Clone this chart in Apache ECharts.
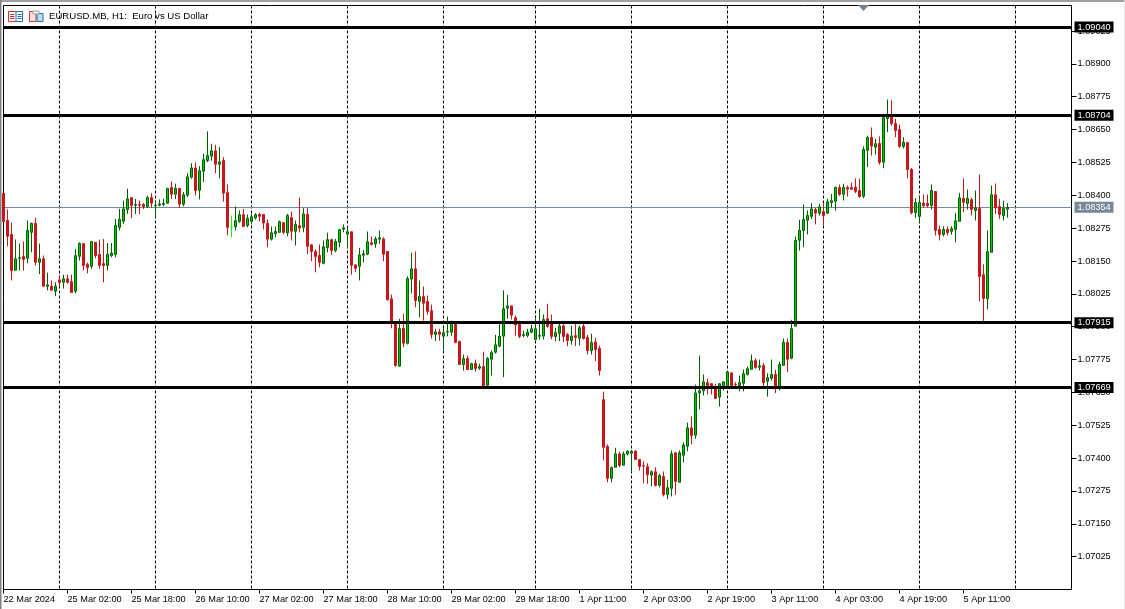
<!DOCTYPE html>
<html><head><meta charset="utf-8">
<style>html,body{margin:0;padding:0;background:#fff;overflow:hidden}#c{width:1125px;height:609px}</style>
<script src="https://cdn.jsdelivr.net/npm/echarts@6/dist/echarts.min.js"></script>
</head><body><div id="c"></div>
<script>
// prices below are in 1e-5 units (108407 = 1.08407)
const opens=[108407,108304,108251,108115,108160,108167,108160,108259,108293,108145,
108158,108054,108054,108035,108078,108069,108082,108071,108035,108168,
108216,108137,108130,108221,108175,108140,108133,108171,108175,108278,
108301,108346,108391,108362,108365,108365,108357,108391,108360,108362,
108365,108370,108430,108404,108426,108366,108400,108469,108504,108419,
108491,108532,108549,108569,108518,108532,108410,108279,108281,108301,
108326,108285,108301,108314,108327,108327,108293,108233,108254,108259,
108296,108257,108315,108263,108284,108278,108327,108211,108186,108171,
108141,108201,108231,108190,108221,108271,108252,108261,108135,108130,
108172,108176,108219,108215,108233,108234,108186,108006,107917,107750,
107893,107837,108081,108120,107997,108015,107996,107961,107871,107880,
107864,107880,107879,107912,107844,107756,107779,107737,107760,107742,
107748,107677,107776,107803,107826,107864,107970,107979,107934,107911,
107867,107866,107879,107851,107864,107864,107930,107911,107863,107875,
107903,107870,107847,107866,107856,107901,107859,107809,107842,107817,
107622,107444,107323,107365,107416,107373,107416,107419,107426,107395,
107371,107367,107335,107348,107297,107330,107262,107285,107420,107308,
107411,107445,107515,107487,107648,107656,107687,107683,107668,107632,
107676,107672,107724,107681,107676,107685,107719,107738,107771,107746,
107752,107692,107704,107718,107670,107753,107840,107780,107902,108229,
108266,108305,108320,108346,108332,108338,108332,108372,108377,108430,
108404,108430,108430,108430,108418,108396,108571,108620,108583,108597,
108526,108692,108700,108673,108650,108586,108601,108498,108334,108320,
108370,108369,108361,108414,108270,108251,108270,108263,108270,108301,
108388,108369,108383,108342,108350,108098,108007,108183,108402,108357,
108323,108347];
const highs=[108407,108346,108296,108232,108216,108224,108304,108296,108315,108216,
108171,108105,108076,108069,108095,108098,108098,108098,108196,108221,
108216,108144,108224,108221,108231,108234,108218,108218,108310,108348,
108380,108425,108391,108386,108380,108371,108399,108408,108380,108384,
108386,108428,108452,108444,108426,108412,108484,108522,108525,108511,
108558,108643,108596,108592,108583,108545,108441,108323,108357,108342,
108348,108327,108329,108332,108333,108327,108308,108281,108281,108304,
108296,108329,108338,108304,108391,108351,108351,108215,108194,108213,
108228,108258,108235,108234,108272,108289,108276,108261,108137,108200,
108192,108262,108243,108243,108266,108240,108186,108022,107920,107930,
107949,108091,108181,108186,108076,108053,108019,107984,107892,107892,
107896,107939,107923,107912,107847,107794,107790,107763,107775,107759,
107805,107784,107809,107869,107913,108038,108021,107980,107942,107923,
107885,107892,107907,107930,107968,107946,107987,107946,107896,107911,
107911,107875,107904,107911,107904,107911,107869,107873,107858,107828,
107653,107452,107368,107439,107425,107425,107429,107431,107431,107395,
107388,107380,107353,107365,107340,107349,107318,107429,107421,107429,
107460,107535,107558,107680,107790,107718,107702,107686,107683,107684,
107691,107729,107727,107689,107714,107737,107748,107794,107780,107775,
107761,107723,107775,107736,107766,107855,107855,107926,108243,108307,
108365,108342,108370,108352,108367,108367,108386,108405,108433,108441,
108444,108437,108448,108464,108463,108586,108627,108658,108615,108624,
108703,108764,108761,108691,108669,108621,108601,108504,108389,108399,
108403,108403,108441,108414,108285,108282,108282,108282,108332,108409,
108464,108422,108390,108418,108479,108137,108266,108437,108445,108386,
108380,108370];
const lows=[108300,108206,108076,108114,108114,108114,108141,108183,108133,108100,
108053,108038,108038,108016,108053,108045,108064,108029,108026,108152,
108114,108103,108120,108160,108120,108069,108114,108164,108164,108266,
108291,108329,108313,108329,108329,108348,108352,108352,108314,108358,
108358,108367,108386,108386,108352,108358,108393,108463,108399,108384,
108450,108526,108532,108484,108465,108376,108247,108240,108266,108295,
108281,108278,108289,108308,108301,108270,108202,108228,108240,108257,
108252,108244,108228,108209,108259,108259,108177,108149,108107,108126,
108137,108183,108173,108183,108202,108259,108200,108098,108107,108076,
108145,108172,108209,108200,108215,108149,108000,107894,107748,107748,
107822,107832,108027,107974,107936,107923,107946,107855,107845,107847,
107812,107863,107866,107837,107756,107733,107737,107736,107729,107736,
107672,107672,107714,107798,107822,107708,107930,107927,107866,107856,
107860,107859,107875,107851,107851,107851,107896,107852,107845,107845,
107841,107826,107832,107826,107828,107851,107794,107794,107769,107714,
107391,107308,107308,107365,107365,107373,107410,107346,107395,107353,
107304,107302,107293,107292,107289,107254,107243,107254,107261,107308,
107384,107426,107452,107473,107585,107638,107642,107642,107627,107596,
107657,107672,107676,107670,107654,107654,107714,107738,107740,107733,
107672,107634,107695,107647,107657,107753,107727,107776,107900,108190,
108202,108251,108310,108289,108323,108285,108329,108354,108342,108398,
108380,108395,108422,108408,108390,108389,108507,108551,108555,108517,
108503,108640,108665,108621,108581,108578,108465,108327,108314,108297,
108354,108354,108345,108247,108228,108243,108247,108250,108221,108300,
108336,108346,108323,108304,107996,107920,107966,108183,108329,108310,
108304,108315];
const closes=[108300,108244,108114,108158,108162,108156,108266,108293,108145,108158,
108054,108059,108039,108054,108068,108082,108069,108030,108170,108216,
108133,108125,108224,108171,108133,108133,108175,108180,108285,108308,
108348,108386,108361,108365,108362,108357,108391,108370,108362,108367,
108369,108426,108404,108426,108366,108402,108470,108504,108418,108493,
108535,108551,108569,108518,108527,108408,108278,108279,108303,108326,
108281,108312,108318,108326,108320,108294,108233,108257,108262,108299,
108259,108323,108263,108289,108275,108329,108206,108186,108167,108145,
108204,108231,108190,108224,108269,108276,108261,108134,108122,108173,
108177,108223,108213,108234,108238,108176,108002,107917,107752,107892,
107837,108083,108120,108000,108015,107989,107958,107870,107880,107871,
107877,107881,107917,107840,107756,107778,107737,107759,107741,107748,
107672,107779,107801,107831,107864,107968,107979,107944,107906,107863,
107870,107879,107892,107892,107866,107927,107901,107863,107877,107903,
107863,107847,107864,107859,107896,107855,107809,107839,107813,107733,
107441,107323,107364,107416,107372,107416,107426,107426,107395,107368,
107370,107337,107348,107296,107334,107261,107287,107416,107311,107420,
107450,107515,107486,107648,107656,107690,107676,107667,107627,107683,
107690,107728,107676,107679,107687,107721,107740,107770,107745,107751,
107687,107706,107718,107670,107756,107840,107776,107892,108228,108266,
108307,108323,108348,108332,108356,108323,108375,108379,108430,108403,
108430,108423,108423,108415,108395,108574,108620,108587,108596,108525,
108695,108703,108673,108646,108586,108601,108498,108334,108372,108372,
108360,108360,108418,108266,108251,108270,108258,108273,108303,108390,
108373,108388,108346,108351,108091,108007,108185,108402,108352,108327,
108350,108354];
const timeLabels=['22 Mar 2024','25 Mar 02:00','25 Mar 18:00','26 Mar 10:00','27 Mar 02:00','27 Mar 18:00','28 Mar 10:00','29 Mar 02:00','29 Mar 18:00','1 Apr 11:00','2 Apr 03:00','2 Apr 19:00','3 Apr 11:00','4 Apr 03:00','4 Apr 19:00','5 Apr 11:00'];
const labelEvery=16;
const daySeparators=[14,38,62,86,110,133,157,181,205,229,253];
const priceTicks=[1.07025,1.07150,1.07275,1.07400,1.07525,1.07650,1.07775,1.07900,1.08025,1.08150,1.08275,1.08400,1.08525,1.08650,1.08775,1.08900,1.09025];
const levels=[1.09040,1.08704,1.07915,1.07669];
const lastPrice=1.08354;
const slotCount=268;
const title='EURUSD.MB, H1:  Euro vs US Dollar';

const FONT='"Liberation Sans"';
const FS=9.2;
const p=v=>v/100000;
const categories=Array.from({length:slotCount},(_,i)=>String(i));
const candles=opens.map((o,i)=>[p(o),p(closes[i]),p(lows[i]),p(highs[i])]);
const showLabel=i=>i%labelEvery===0&&i/labelEvery<timeLabels.length;
const boxLabel=(bg)=>({show:true,position:'end',distance:3,formatter:d=>d.value.toFixed(5),
  color:'#fff',backgroundColor:bg,fontFamily:FONT,fontSize:FS,width:36,height:11,lineHeight:11,align:'left',verticalAlign:'middle',padding:[0,0,0,3]});
const red='#c8171c', green='#00c800', dgreen='#005f00';
const chart=echarts.init(document.getElementById('c'),null,{renderer:'canvas'});
chart.setOption({
  animation:false,
  backgroundColor:'#fff',
  grid:{left:3.5,right:53.5,top:5.5,height:584,show:true,borderColor:'#000',borderWidth:1,backgroundColor:'#fff'},
  xAxis:{type:'category',data:categories,boundaryGap:false,
    axisLine:{show:true,lineStyle:{color:'#000',width:1}},
    axisTick:{show:true,length:4,interval:(i)=>showLabel(i),lineStyle:{color:'#000'}},
    axisLabel:{show:true,interval:(i)=>showLabel(i),formatter:(v,i)=>timeLabels[i/labelEvery]||'',
      color:'#000',fontFamily:FONT,fontSize:FS,align:'left',margin:5,hideOverlap:false},
    splitLine:{show:true,interval:(i)=>daySeparators.includes(i),lineStyle:{color:'#000',type:[3,2],width:1}}},
  yAxis:{type:'value',position:'right',min:1.06900,max:1.09122,scale:true,
    axisLine:{show:true,lineStyle:{color:'#000'}},
    axisTick:{show:true,length:5,customValues:priceTicks,lineStyle:{color:'#000'}},
    axisLabel:{show:true,customValues:priceTicks,formatter:v=>v.toFixed(5),color:'#000',fontFamily:FONT,fontSize:FS,margin:6},
    splitLine:{show:false}},
  series:[
    {type:'line',data:[],z:1,silent:true,
      markLine:{silent:true,symbol:'none',animation:false,z:1,precision:5,
        lineStyle:{color:'#778899',width:1,type:'solid'},
        label:boxLabel('#778899'),emphasis:{disabled:true},
        data:[{yAxis:lastPrice}]}},
    {type:'candlestick',data:candles,barWidth:2,z:3,silent:true,
      itemStyle:{color:green,color0:red,borderColor:dgreen,borderColor0:red,borderColorDoji:'#00ff00',borderWidth:1},
      markLine:{silent:true,symbol:'none',animation:false,z:6,precision:5,
        lineStyle:{color:'#000',width:3,type:'solid'},
        label:boxLabel('#000'),emphasis:{disabled:true},
        data:levels.map(v=>({yAxis:v}))}}
  ],
  graphic:[
    {type:'rect',shape:{x:0,y:0,width:1125,height:2},style:{fill:'#a0a0a0'},silent:true},
    {type:'rect',shape:{x:0,y:0,width:1.5,height:609},style:{fill:'#808080'},silent:true},
    {type:'rect',shape:{x:1124,y:0,width:1,height:609},style:{fill:'#e4e4e4'},silent:true},
    {type:'text',style:{x:49,y:11.5,text:title,fill:'#000',font:'9.6px '+FONT},silent:true},
    {type:'polygon',shape:{points:[[858,5],[869,5],[863.5,11]]},style:{fill:'#6f8296'},silent:true},
    {type:'rect',shape:{x:8.5,y:11.5,width:14,height:10},style:{fill:'#fff',stroke:'#d9322e',lineWidth:1},silent:true},
    {type:'rect',shape:{x:16,y:11.5,width:6.5,height:10},style:{fill:'#fff',stroke:'#1f6fb5',lineWidth:1},silent:true},
    {type:'rect',shape:{x:10,y:14,width:4.5,height:1},style:{fill:'#d9322e'},silent:true},
    {type:'rect',shape:{x:10,y:16,width:4.5,height:1},style:{fill:'#d9322e'},silent:true},
    {type:'rect',shape:{x:10,y:18,width:4.5,height:1},style:{fill:'#d9322e'},silent:true},
    {type:'rect',shape:{x:17.5,y:14,width:4,height:1},style:{fill:'#1f6fb5'},silent:true},
    {type:'rect',shape:{x:17.5,y:16,width:4,height:1},style:{fill:'#1f6fb5'},silent:true},
    {type:'rect',shape:{x:17.5,y:18,width:4,height:1},style:{fill:'#1f6fb5'},silent:true},
    {type:'rect',shape:{x:29.5,y:11.5,width:6.5,height:10},style:{fill:'#fde3dc',stroke:'#d9322e',lineWidth:1},silent:true},
    {type:'rect',shape:{x:37,y:13.5,width:6,height:8},style:{fill:'#bcdcf2',stroke:'#1f6fb5',lineWidth:1},silent:true},
    {type:'rect',shape:{x:33,y:11,width:6,height:3},style:{fill:'#fff',stroke:'#9a9a9a',lineWidth:1},silent:true}
  ]
});
</script></body></html>
